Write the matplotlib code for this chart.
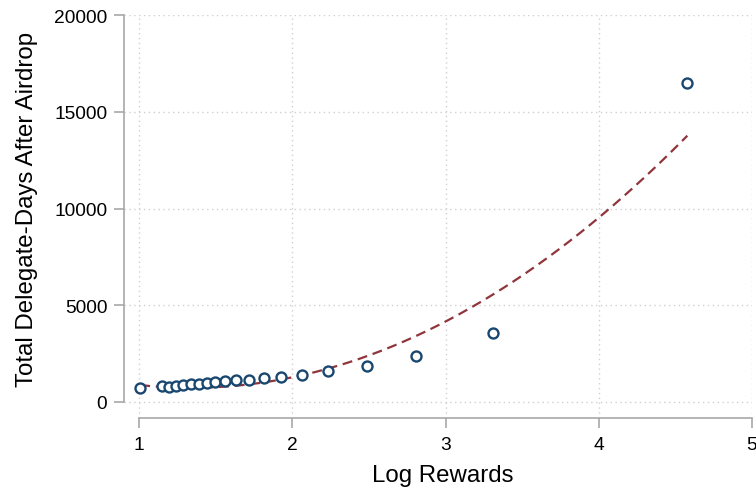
import matplotlib
matplotlib.use("Agg")
import matplotlib.pyplot as plt
import numpy as np

plt.rcParams["font.family"] = ["Liberation Sans", "DejaVu Sans"]

# binned means: log rewards vs total delegate-days after airdrop
log_rewards = [1.007, 1.148, 1.198, 1.241, 1.289, 1.337, 1.390, 1.442, 1.496,
               1.561, 1.633, 1.720, 1.816, 1.927, 2.062, 2.233, 2.488, 2.806,
               3.308, 4.578]
delegate_days = [708, 811, 760, 842, 879, 915, 930, 966, 1018, 1070, 1121,
                 1152, 1240, 1276, 1380, 1602, 1860, 2362, 3566, 16486]

# quadratic fit (constant, linear, squared term)
fit_coef = [2967, -3331, 1242.7]

x_ticks = [1, 2, 3, 4, 5]
y_ticks = [0, 5000, 10000, 15000, 20000]

navy = "#1a476f"
maroon = "#90353b"
spine_grey = "#a8a8a8"

fig = plt.figure(figsize=(7.56, 4.89), dpi=100)
ax = fig.add_axes([124 / 756, 1 - 419 / 489, 628 / 756, 403 / 489])

xs = np.linspace(min(log_rewards), max(log_rewards), 200)
fit = fit_coef[0] + fit_coef[1] * xs + fit_coef[2] * xs ** 2
ax.plot(xs, fit, color=maroon, lw=1.6, ls=(0, (4.5, 2.6)), zorder=2)
ax.plot(log_rewards, delegate_days, ls="none", marker="o", ms=7.2,
        mfc="white", mec=navy, mew=1.7, zorder=3)

x_px = 153.25  # pixels per unit on x
y_px = 19.35   # pixels per 1000 on y
ax.set_xlim(1 - 15 / x_px, 5)
ax.set_ylim(-16 / y_px * 1000, 20000)

ax.set_xticks(x_ticks)
ax.set_yticks(y_ticks)
ax.set_yticklabels([str(v) for v in y_ticks])
ax.tick_params(axis="both", labelsize=13.8, colors=spine_grey,
               labelcolor="black", length=7, width=1.2, direction="out")
ax.tick_params(axis="y", pad=5)
ax.tick_params(axis="x", pad=6)

for side in ("top", "right"):
    ax.spines[side].set_visible(False)
for side in ("left", "bottom"):
    ax.spines[side].set_color(spine_grey)
    ax.spines[side].set_linewidth(1.2)
ax.spines["left"].set_bounds(0, 20000)
ax.spines["bottom"].set_bounds(1, 5)

ax.grid(True, color="#d0d0d0", ls=(0, (1, 2.5)), lw=1.0)
ax.set_axisbelow(True)

ax.set_xlabel("Log Rewards", fontsize=17.3)
ax.set_ylabel("Total Delegate-Days After Airdrop", fontsize=17.3)
ax.xaxis.set_label_coords((443 - 124) / 628, (419 - 476) / 403)
ax.xaxis.label.set_va("center")
ax.yaxis.set_label_coords((27 - 124) / 628, (419 - 209.5) / 403)
ax.yaxis.label.set_va("center")

fig.savefig("out.png", dpi=100)
